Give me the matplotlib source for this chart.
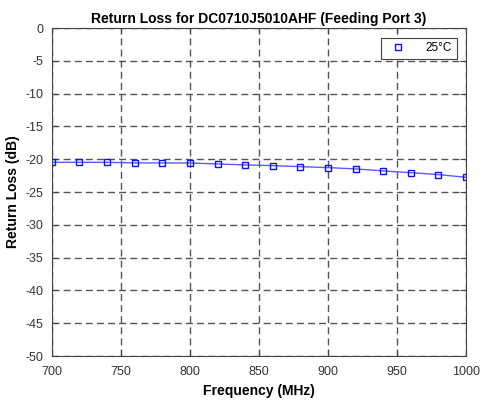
import matplotlib
matplotlib.use("Agg")
import matplotlib.pyplot as plt
from matplotlib.lines import Line2D

plt.rcParams["font.family"] = ["Liberation Sans", "DejaVu Sans"]
plt.rcParams["axes.unicode_minus"] = False

freq_mhz = [700, 720, 740, 760, 780, 800, 820, 840, 860, 880,
            900, 920, 940, 960, 980, 1000]
return_loss_db = [-20.46, -20.46, -20.47, -20.55, -20.56, -20.57, -20.71, -20.86,
                  -20.97, -21.12, -21.27, -21.47, -21.77, -22.04, -22.34, -22.75]
x_ticks = [700, 750, 800, 850, 900, 950, 1000]
y_ticks = list(range(-50, 1, 5))

fig = plt.figure(figsize=(4.8, 4.01), dpi=100)
ax = fig.add_axes([0.108, 0.112, 0.863, 0.818])

ax.plot(freq_mhz, return_loss_db, color="#5a5aff", linewidth=1.0)
ax.plot(freq_mhz, return_loss_db, linestyle="none", marker="s", markersize=5,
        markerfacecolor="none", markeredgecolor="#1010ee", markeredgewidth=1.0)

ax.set_xlim(700, 1000)
ax.set_ylim(-50, 0)
ax.set_xticks(x_ticks)
ax.set_yticks(y_ticks)
ax.tick_params(direction="in", labelsize=9, length=4, top=True, right=True,
               colors="#444444", labelcolor="#333333")
ax.tick_params(axis="x", pad=7)
ax.tick_params(axis="y", pad=6)
ax.grid(True, color="#555555", linestyle=(0, (5, 3)), linewidth=1.0)
for s in ax.spines.values():
    s.set_color("#444444")

ax.set_title("Return Loss for DC0710J5010AHF (Feeding Port 3)",
             fontsize=10, fontweight="bold", pad=4)
ax.set_xlabel("Frequency (MHz)", fontsize=10, fontweight="bold")
ax.set_ylabel("Return Loss (dB)", fontsize=10, fontweight="bold")
ax.xaxis.set_label_coords(0.5, -0.085)
ax.yaxis.set_label_coords(-0.077, 0.5)

handle = Line2D([], [], linestyle="none", marker="s", markersize=5,
                markerfacecolor="none", markeredgecolor="#1010ee")
leg = ax.legend([handle], ["25°C"], loc="upper right", fontsize=8.5,
                fancybox=False, framealpha=1, edgecolor="#444444",
                handlelength=2.2, handletextpad=1.2, borderaxespad=0.8)
leg.get_frame().set_linewidth(0.8)

fig.savefig("out.png", dpi=100, facecolor="white")
